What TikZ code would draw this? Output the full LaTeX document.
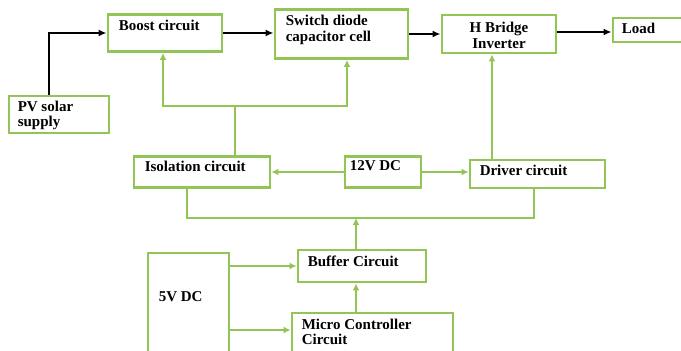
\documentclass[tikz,border=0pt]{standalone}
\usepackage{fontspec}
\setmainfont{Liberation Serif}
\usepackage{xcolor}
\usepackage{tikz}
\usetikzlibrary{arrows.meta, positioning, calc}
\definecolor{boxgreen}{RGB}{146, 196, 86}

\begin{document}
\begin{tikzpicture}[
    x=1pt, y=-1pt,
    box/.style={draw=boxgreen, line width=2.9pt, fill=white, inner sep=0pt},
    txt/.style={anchor=north west, inner sep=0pt, align=left, font=\fontsize{15}{15.8}\selectfont\bfseries},
    arr/.style={-{Latex[length=8pt, width=7pt]}, line width=2.3pt, black},
    garr/.style={-{Latex[length=7pt, width=7pt]}, line width=2.7pt, draw=boxgreen},
    gline/.style={line width=2.7pt, draw=boxgreen}
]
    \useasboundingbox (0,0) rectangle (681,351);
    \clip (0,0) rectangle (681,351);

    % Power stage
    \node[box, minimum width=100pt, minimum height=37pt] (pv) at (59,114.5) {};
    \node[box, minimum width=114pt, minimum height=37pt] (boost) at (165,33) {};
    \node[box, minimum width=133pt, minimum height=49pt] (switch) at (341.5,34) {};
    \node[box, minimum width=114pt, minimum height=38pt] (hbridge) at (499,34) {};
    \node[box, minimum width=87pt, minimum height=24pt] (load) at (656.5,30) {};
    \node[txt] at ([xshift=10pt, yshift=-6pt]pv.north west) {PV solar\\supply};
    \node[txt] at ([xshift=12pt, yshift=-7pt]boost.north west) {Boost circuit};
    \node[txt] at ([xshift=12pt, yshift=-7pt]switch.north west) {Switch diode\\capacitor cell};
    \node[txt, anchor=center, align=center] at ([yshift=-1pt]hbridge.center) {H Bridge\\Inverter};
    \node[txt] at ([xshift=10pt, yshift=-6pt]load.north west) {Load};

    % Control stage
    \node[box, minimum width=136pt, minimum height=31pt] (iso) at (202,172) {};
    \node[box, minimum width=76pt, minimum height=31pt] (v12) at (383,172) {};
    \node[box, minimum width=135pt, minimum height=28pt] (driver) at (537.5,174) {};
    \node[box, minimum width=128pt, minimum height=32pt] (buffer) at (362,266) {};
    \node[box, minimum width=81pt, minimum height=127pt] (v5) at (188.5,316.5) {};
    \node[box, minimum width=161pt, minimum height=67pt] (micro) at (372.5,346.5) {};
    \node[txt] at ([xshift=12pt, yshift=-6pt]iso.north west) {Isolation circuit};
    \node[txt] at ([xshift=6pt, yshift=-5pt]v12.north west) {12V DC};
    \node[txt] at ([xshift=11pt, yshift=-6pt]driver.north west) {Driver circuit};
    \node[txt] at ([xshift=11pt, yshift=-7pt]buffer.north west) {Buffer Circuit};
    \node[txt] at ([xshift=12pt, yshift=-40pt]v5.north west) {5V DC};
    \node[txt] at ([xshift=11pt, yshift=-7pt]micro.north west) {Micro Controller\\Circuit};

    % Power path
    \draw[arr] ([xshift=-10pt]pv.north) |- (boost.west);
    \draw[arr] (boost.east) -- (boost.east -| switch.west);
    \draw[arr] (switch.east) -- (switch.east -| hbridge.west);
    \draw[arr] ([yshift=2pt]hbridge.east) -- ([yshift=2pt]hbridge.east -| load.west);

    % Isolation feed
    \coordinate (upbus) at (235,106);
    \draw[gline] ([xshift=33pt]iso.north) -- (upbus);
    \draw[garr] (upbus) -| ([xshift=-2pt]boost.south);
    \draw[garr] (upbus) -| ([xshift=5.5pt]switch.south);
    \draw[garr] ([xshift=-45.5pt]driver.north) -- ([xshift=-45.5pt]driver.north |- hbridge.south);

    % 12V supply
    \draw[garr] (v12.west) -- (iso.east);
    \draw[garr] (v12.east) -- (v12.east -| driver.west);

    % Buffer bus
    \coordinate (lowbus) at (356,218);
    \draw[gline] ([xshift=-15pt]iso.south) |- (lowbus) -| ([xshift=-3.5pt]driver.south);
    \draw[garr] (buffer.north -| lowbus) -- (lowbus);
    \draw[garr] (micro.north -| lowbus) -- (buffer.south -| lowbus);

    % 5V supply
    \coordinate (mc) at ([yshift=16.5pt]micro.west);
    \draw[garr] (v5.east |- buffer.west) -- (buffer.west);
    \draw[garr] (v5.east |- mc) -- (mc);
\end{tikzpicture}
\end{document}
